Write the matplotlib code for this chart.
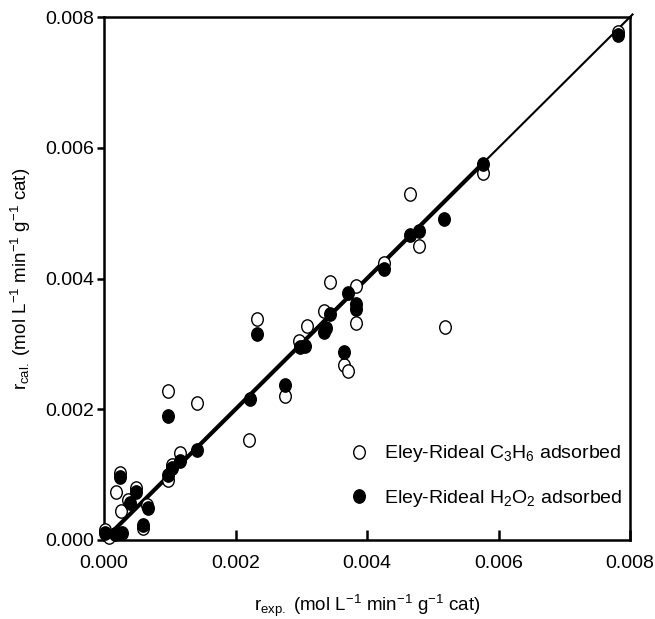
import numpy as np
import matplotlib
matplotlib.use("Agg")
import matplotlib.pyplot as plt
from matplotlib.path import Path
from matplotlib.transforms import Affine2D

plt.rcParams['font.family'] = ['Liberation Sans', 'DejaVu Sans']
plt.rcParams['mathtext.fontset'] = 'custom'
plt.rcParams['mathtext.rm'] = 'Liberation Sans'
plt.rcParams['mathtext.it'] = 'Liberation Sans:italic'
plt.rcParams['mathtext.bf'] = 'Liberation Sans:bold'

# Experimental vs. calculated rates, Eley-Rideal model with C3H6 adsorbed
c3h6_exp = [0.00001, 0.00008, 0.00019, 0.00024, 0.00026, 0.00037, 0.00048, 0.00060,
            0.00066, 0.00098, 0.00103, 0.00098, 0.00115, 0.00141, 0.00221, 0.00232,
            0.00275, 0.00296, 0.00308, 0.00334, 0.00343, 0.00365, 0.00371, 0.00384,
            0.00384, 0.00426, 0.00465, 0.00479, 0.00518, 0.00577, 0.00781]
c3h6_cal = [0.00016, 0.00005, 0.00073, 0.00103, 0.00045, 0.00061, 0.00080, 0.00019,
            0.00054, 0.00092, 0.00115, 0.00228, 0.00133, 0.00209, 0.00153, 0.00338,
            0.00220, 0.00304, 0.00328, 0.00351, 0.00394, 0.00267, 0.00258, 0.00389,
            0.00332, 0.00423, 0.00529, 0.00450, 0.00326, 0.00562, 0.00777]

# Eley-Rideal model with H2O2 adsorbed
h2o2_exp = [0.00001, 0.00016, 0.00028, 0.00024, 0.00040, 0.00049, 0.00060, 0.00067,
            0.00098, 0.00103, 0.00115, 0.00098, 0.00141, 0.00222, 0.00232, 0.00275,
            0.00298, 0.00306, 0.00334, 0.00338, 0.00343, 0.00365, 0.00371, 0.00384,
            0.00384, 0.00426, 0.00465, 0.00479, 0.00517, 0.00577, 0.00782]
h2o2_cal = [0.00010, 0.00009, 0.00011, 0.00097, 0.00056, 0.00073, 0.00023, 0.00049,
            0.00099, 0.00110, 0.00121, 0.00189, 0.00137, 0.00215, 0.00315, 0.00237,
            0.00295, 0.00297, 0.00318, 0.00325, 0.00346, 0.00287, 0.00378, 0.00361,
            0.00353, 0.00414, 0.00466, 0.00472, 0.00491, 0.00575, 0.00772]

ticks = [0.000, 0.002, 0.004, 0.006, 0.008]
tick_labels = ["0.000", "0.002", "0.004", "0.006", "0.008"]

# slightly tall elliptical marker
oval = Path.unit_circle().transformed(Affine2D().scale(0.87, 1.0))

fig = plt.figure(figsize=(6.55, 6.19), dpi=100)
ax = fig.add_axes([104/655, 1-540/619, 526/655, 523/619])

# parity lines
ax.plot([0.0001, 0.00805], [0.0001, 0.00805], color='black', lw=1.5,
        solid_capstyle='butt', clip_on=False, zorder=1)
ax.plot([0.0001, 0.0058], [0.0001, 0.0058], color='black', lw=3.0,
        solid_capstyle='butt', zorder=1)

ax.plot(c3h6_exp, c3h6_cal, linestyle='none', marker=oval, ms=9.6,
        mfc='white', mec='black', mew=1.0, zorder=3, clip_on=False,
        label=r'Eley-Rideal C$_3$H$_6$ adsorbed')
ax.plot(h2o2_exp, h2o2_cal, linestyle='none', marker=oval, ms=9.6,
        mfc='black', mec='black', mew=1.0, zorder=4, clip_on=False,
        label=r'Eley-Rideal H$_2$O$_2$ adsorbed')

ax.set_xlim(0, 0.008)
ax.set_ylim(0, 0.008)
ax.set_xticks(ticks)
ax.set_xticklabels(tick_labels)
ax.set_yticks(ticks)
ax.set_yticklabels(tick_labels)

for s in ax.spines.values():
    s.set_linewidth(1.8)

ax.tick_params(axis='x', direction='in', length=7, width=1.8, labelsize=14, pad=11)
ax.tick_params(axis='y', direction='out', length=5, width=1.8, labelsize=14, pad=2)

ax.set_xlabel(r'r$_{\rm exp.}$ (mol L$^{-1}$ min$^{-1}$ g$^{-1}$ cat)', fontsize=13.5, labelpad=15)
ax.set_ylabel(r'r$_{\rm cal.}$ (mol L$^{-1}$ min$^{-1}$ g$^{-1}$ cat)', fontsize=13.5, labelpad=9)

ax.legend(loc='lower right', bbox_to_anchor=(1.0, 0.045), frameon=False, fontsize=14,
          handlelength=1.0, handletextpad=0.75, labelspacing=1.2, borderpad=0.2,
          borderaxespad=0.2)

fig.savefig('out.png', dpi=100)
